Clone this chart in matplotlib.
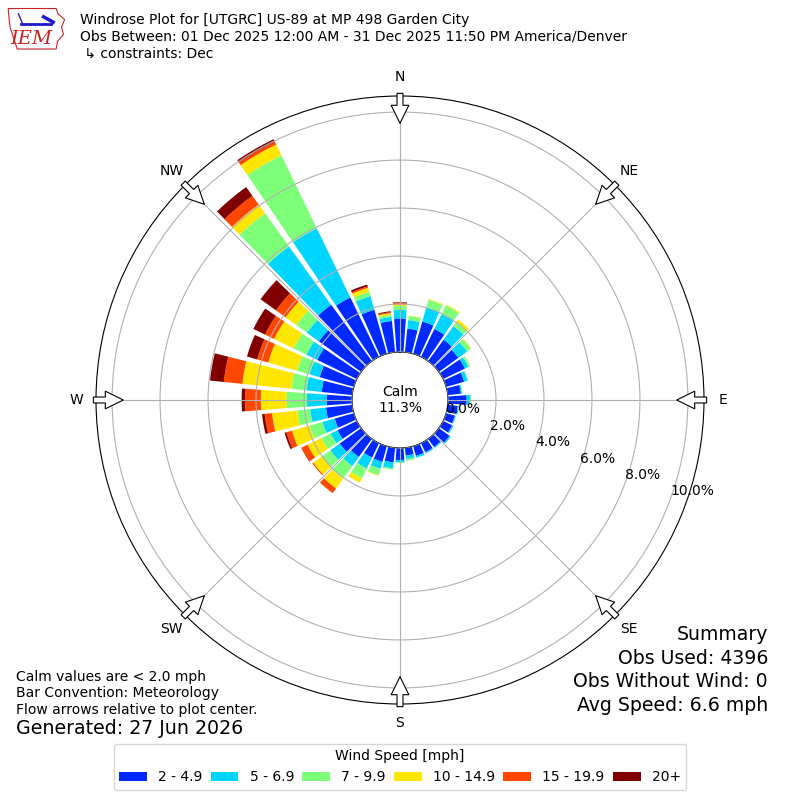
import numpy as np
import matplotlib
matplotlib.use("Agg")
import matplotlib.pyplot as plt
from matplotlib.patches import Polygon

# direction bins (deg, meteorological) and percent of obs in each speed bin
directions = list(range(0, 360, 10))
speed_labels = ["2 - 4.9", "5 - 6.9", "7 - 9.9", "10 - 14.9", "15 - 19.9", "20+"]

pct_2_5 = [1.40, 0.99, 1.40, 1.29, 1.10, 1.00, 1.01, 0.78, 0.55, 0.78, 0.42, 0.38,
           0.42, 0.55, 0.42, 0.42, 0.42, 0.33, 0.50, 0.61, 0.68, 0.67, 0.93, 1.10,
           0.89, 0.83, 1.10, 1.06, 1.28, 1.48, 1.83, 2.17, 2.90, 2.75, 1.91, 1.31]
pct_5_7 = [0.35, 0.36, 0.62, 0.69, 0.70, 0.45, 0.16, 0.15, 0.05, 0.14, 0.05, 0.04,
           0.05, 0.06, 0.05, 0.05, 0.08, 0.14, 0.10, 0.25, 0.30, 0.50, 0.47, 0.48,
           0.32, 0.53, 0.66, 0.82, 0.64, 0.44, 0.50, 0.62, 3.00, 3.20, 0.59, 0.17]
pct_7_10 = [0.17, 0.17, 0.32, 0.40, 0.20, 0.20, 0.08, 0.02, 0.01, 0.04, 0.00, 0.00,
            0.00, 0.00, 0.00, 0.00, 0.00, 0.07, 0.03, 0.06, 0.27, 0.46, 0.64, 0.41,
            0.43, 0.55, 0.54, 0.84, 0.63, 0.54, 0.59, 0.54, 1.70, 3.38, 0.19, 0.09]
pct_10_15 = [0.06, 0.02, 0.03, 0.04, 0.13, 0.02, 0.00, 0.00, 0.00, 0.00, 0.00, 0.00,
             0.00, 0.00, 0.00, 0.00, 0.00, 0.00, 0.00, 0.00, 0.03, 0.20, 0.51, 0.47,
             0.64, 0.77, 1.06, 1.08, 2.05, 1.25, 0.91, 0.55, 0.45, 0.50, 0.17, 0.07]
pct_15_20 = [0.08, 0.00, 0.00, 0.00, 0.00, 0.00, 0.00, 0.00, 0.00, 0.00, 0.00, 0.00,
             0.00, 0.00, 0.00, 0.00, 0.00, 0.00, 0.00, 0.00, 0.00, 0.00, 0.24, 0.05,
             0.27, 0.24, 0.31, 0.66, 0.78, 0.48, 0.42, 0.50, 0.45, 0.13, 0.06, 0.04]
pct_20p = [0.02, 0.00, 0.00, 0.00, 0.00, 0.00, 0.00, 0.00, 0.00, 0.00, 0.00, 0.00,
           0.00, 0.00, 0.00, 0.00, 0.00, 0.00, 0.00, 0.00, 0.00, 0.00, 0.00, 0.00,
           0.02, 0.08, 0.11, 0.14, 0.58, 0.44, 0.54, 0.79, 0.45, 0.12, 0.08, 0.04]

calm_pct = 11.3
rticks = [0, 2, 4, 6, 8, 10]
compass = ["N", "NE", "E", "SE", "S", "SW", "W", "NW"]

series = [pct_2_5, pct_5_7, pct_7_10, pct_10_15, pct_15_20, pct_20p]
colors = plt.get_cmap("jet")(np.arange(1, 7) / 6.0)

fig = plt.figure(figsize=(8, 8), dpi=100)
ax = fig.add_axes([0.12, 0.12, 0.76, 0.76], projection="polar")
ax.set_theta_zero_location("N")
ax.set_theta_direction(-1)

theta = np.deg2rad(directions)
base = np.zeros(len(directions))
handles = []
for vals, col, lab in zip(series, colors, speed_labels):
    b = ax.bar(theta, vals, width=np.deg2rad(10) * 0.83, bottom=base,
               color=col, label=lab, zorder=1)
    handles.append(b)
    base = base + np.array(vals)

ax.set_rorigin(-2.0)
ax.set_ylim(0, 10.67)
ax.set_yticks(rticks)
ax.set_yticklabels(["%.1f%%" % t for t in rticks], fontsize=10)
ax.set_rlabel_position(110)
ax.set_thetagrids(range(0, 360, 45), compass, fontsize=10)
ax.tick_params(axis="x", pad=3.5)
ax.set_axisbelow(False)
ax.grid(True, color="#b0b0b0", lw=0.8)

# flow arrows straddling the outer ring
for d in range(0, 360, 45):
    th = np.deg2rad(d)
    ax.annotate("", xy=(th, 9.53), xytext=(th, 10.78),
                arrowprops=dict(arrowstyle="simple,head_length=1.3,head_width=1.27,tail_width=0.43",
                                fc="white", ec="black", lw=0.8, shrinkA=0, shrinkB=0,
                                mutation_scale=10),
                annotation_clip=False, zorder=5)

ax.text(0.5, 0.5, "Calm\n%.1f%%" % calm_pct, transform=ax.transAxes,
        ha="center", va="center", fontsize=10)

# header
fig.text(0.1, 1 - 20 / 800, "Windrose Plot for [UTGRC] US-89 at MP 498 Garden City",
         fontsize=10, va="center")
fig.text(0.1, 1 - 37 / 800,
         "Obs Between: 01 Dec 2025 12:00 AM - 31 Dec 2025 11:50 PM America/Denver",
         fontsize=10, va="center")
fig.text(0.1, 1 - 54 / 800, " \u21b3 constraints: Dec", fontsize=10, va="center")

# footer notes
fig.text(0.02, 1 - 677 / 800, "Calm values are < 2.0 mph", fontsize=10, va="center")
fig.text(0.02, 1 - 693 / 800, "Bar Convention: Meteorology", fontsize=10, va="center")
fig.text(0.02, 1 - 710 / 800, "Flow arrows relative to plot center.", fontsize=10, va="center")
fig.text(0.02, 1 - 729 / 800, "Generated: 27 Jun 2026", fontsize=13.7, va="center")

summary = ["Summary", "Obs Used: 4396", "Obs Without Wind: 0", "Avg Speed: 6.6 mph"]
for i, s in enumerate(summary):
    fig.text(0.96, 1 - (635 + i * 23.4) / 800, s, fontsize=13.6, ha="right", va="center")

fig.legend(handles=handles, labels=speed_labels, loc="lower center",
           bbox_to_anchor=(0.5, 0.004), ncol=6, fontsize=10,
           title="Wind Speed [mph]", title_fontsize=10, columnspacing=0.6)

# small IEM logo
lax = fig.add_axes([0.008, 0.936, 0.075, 0.055])
lax.set_xlim(0, 1)
lax.set_ylim(0, 1)
lax.axis("off")
iowa = [(0.03, 0.97), (0.83, 0.97), (0.86, 0.85), (0.97, 0.72), (0.92, 0.55),
        (0.95, 0.38), (0.85, 0.22), (0.83, 0.05), (0.18, 0.05), (0.12, 0.3),
        (0.06, 0.55), (0.04, 0.8)]
lax.add_patch(Polygon(iowa, closed=True, fill=False, ec="#cc2222", lw=0.8))
lax.plot([0.25, 0.75], [0.62, 0.62], color="#1a1acc", lw=2)
lax.plot([0.62, 0.78], [0.78, 0.66], color="#1a1acc", lw=2.5)
lax.plot([0.2, 0.27], [0.85, 0.62], color="#1a1acc", lw=1)
lax.text(0.42, 0.27, "IEM", color="#cc2222", fontsize=14, family="DejaVu Serif",
         style="italic", ha="center", va="center")

fig.savefig("out.png", dpi=100)
